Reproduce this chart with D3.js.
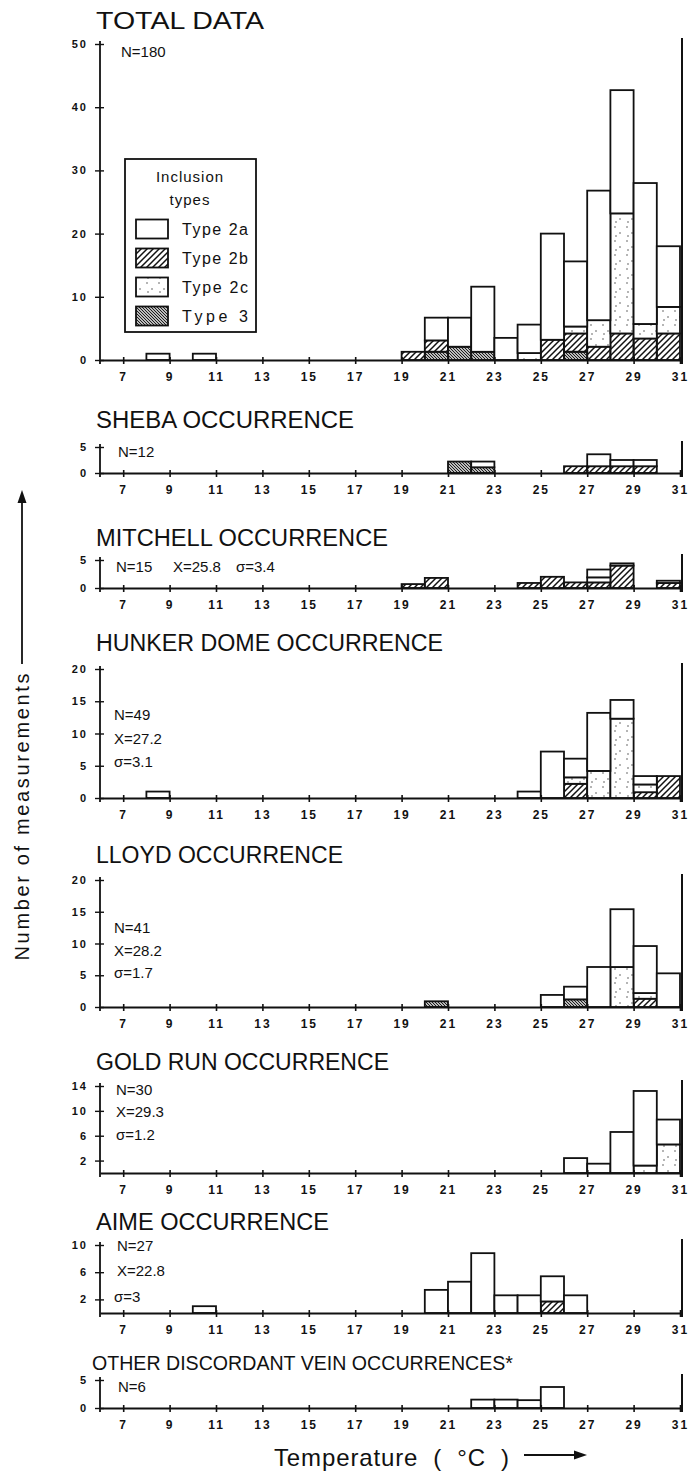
<!DOCTYPE html>
<html>
<head>
<meta charset="utf-8">
<script src="https://cdn.jsdelivr.net/npm/d3@7"></script>
<style>
  body { margin: 0; background: #fff; }
  text { font-family: "Liberation Sans", Arial, sans-serif; fill: #111; }
</style>
</head>
<body>
<div id="chart"></div>
<script>
// each row: bin start (deg C), type 3, type 2b, type 2c, type 2a  (bins are 1 deg wide)
var totalData = [
  [8, 0, 0, 0, 1], [10, 0, 0, 0, 1], [19, 0, 1.3, 0, 0],
  [20, 1.3, 1.8, 0, 3.6], [21, 2.1, 0, 0, 4.6], [22, 1.3, 0, 0, 10.3],
  [23, 0, 0, 0, 3.5], [24, 0, 0, 1.1, 4.5], [25, 0, 3.2, 0, 16.8],
  [26, 1.3, 2.9, 1.1, 10.3], [27, 0, 2.1, 4.2, 20.5], [28, 0, 4.2, 19, 19.5],
  [29, 0, 3.4, 2.3, 22.3], [30, 0, 4.2, 4.2, 9.6]
]
var shebaData = [
  [21, 2.2, 0, 0, 0], [22, 1.1, 0, 0, 1.1], [26, 0, 1.3, 0, 0],
  [27, 0, 1.3, 0, 2.3], [28, 0, 1.3, 0, 1.2], [29, 0, 1.3, 0, 1.2]
]
var mitchellData = [
  [19, 0, 0.7, 0, 0], [20, 0, 1.8, 0, 0], [24, 0, 0.9, 0, 0], [25, 0, 2, 0, 0],
  [26, 0, 1, 0, 0], [27, 0, 1, 0.9, 1.4], [28, 0, 4, 0, 0.4], [30, 0, 0.9, 0, 0.4]
]
var hunkerData = [
  [8, 0, 0, 0, 1], [24, 0, 0, 0, 1], [25, 0, 0, 0, 7.2], [26, 0, 2.2, 1, 2.9],
  [27, 0, 0, 4.2, 9], [28, 0, 0, 12.3, 2.9], [29, 0, 0.9, 1.2, 1.3], [30, 0, 3.4, 0, 0]
]
var lloydData = [
  [20, 0.9, 0, 0, 0], [25, 0, 0, 0, 1.9], [26, 1.2, 0, 0, 2], [27, 0, 0, 0, 6.3],
  [28, 0, 0, 6.3, 9.1], [29, 0, 1.3, 0.9, 7.4], [30, 0, 0, 0, 5.3]
]
var goldRunData = [
  [26, 0, 0, 0, 2.4], [27, 0, 0, 0, 1.5], [28, 0, 0, 0, 6.6],
  [29, 0, 0, 1.2, 12], [30, 0, 0, 4.6, 4]
]
var aimeData = [
  [10, 0, 0, 0, 1], [20, 0, 0, 0, 3.4], [21, 0, 0, 0, 4.6], [22, 0, 0, 0, 8.8],
  [23, 0, 0, 0, 2.6], [24, 0, 0, 0, 2.6], [25, 0, 1.7, 0, 3.7], [26, 0, 0, 0, 2.6]
]
var otherData = [
  [22, 0, 0, 0, 1.5], [23, 0, 0, 0, 1.5], [24, 0, 0, 0, 1.4], [25, 0, 0, 0, 3.75]
]

var xTicks = [7, 9, 11, 13, 15, 17, 19, 21, 23, 25, 27, 29, 31]
var legendLabels = ["Type 2a", "Type 2b", "Type 2c", "Type 3"]
var layerKeys = ["t3", "b", "c", "a"]   // bottom to top

var totalStats = ["N=180"]
var shebaStats = ["N=12"]
var mitchellStats = ["N=15", "X=25.8", "\u03c3=3.4"]
var hunkerStats = ["N=49", "X=27.2", "\u03c3=3.1"]
var lloydStats = ["N=41", "X=28.2", "\u03c3=1.7"]
var goldRunStats = ["N=30", "X=29.3", "\u03c3=1.2"]
var aimeStats = ["N=27", "X=22.8", "\u03c3=3"]
var otherStats = ["N=6"]

// layout of the panels (pixel positions on the page)
var panels = [
  {title: "TOTAL DATA", data: totalData, max: 50, ticks: [0, 10, 20, 30, 40, 50], titleY: 20, topY: 44, baseY: 360, tw: 168, fs: 24,
   stats: totalStats, sx: [121], sy: [52]},
  {title: "SHEBA OCCURRENCE", data: shebaData, max: 5, ticks: [0, 5], titleY: 420, topY: 447, baseY: 473, tw: 258,
   stats: shebaStats, sx: [118], sy: [452]},
  {title: "MITCHELL OCCURRENCE", data: mitchellData, max: 5, ticks: [0, 5], titleY: 538, topY: 560, baseY: 588, tw: 292,
   stats: mitchellStats, sx: [116, 173, 236], sy: [567, 567, 567]},
  {title: "HUNKER DOME OCCURRENCE", data: hunkerData, max: 20, ticks: [0, 5, 10, 15, 20], titleY: 643, topY: 669, baseY: 798, tw: 347,
   stats: hunkerStats, sx: [114, 114, 114], sy: [715, 739, 762]},
  {title: "LLOYD OCCURRENCE", data: lloydData, max: 20, ticks: [0, 5, 10, 15, 20], titleY: 855, topY: 880, baseY: 1007, tw: 247,
   stats: lloydStats, sx: [114, 114, 114], sy: [928, 951, 973]},
  {title: "GOLD RUN OCCURRENCE", data: goldRunData, max: 14, ticks: [2, 6, 10, 14], titleY: 1062, topY: 1086, baseY: 1173, tw: 293,
   stats: goldRunStats, sx: [116, 116, 116], sy: [1090, 1112, 1135]},
  {title: "AIME OCCURRENCE", data: aimeData, max: 10, ticks: [2, 6, 10], titleY: 1222, topY: 1245, baseY: 1313, tw: 233,
   stats: aimeStats, sx: [117, 117, 114], sy: [1246, 1271, 1297]},
  {title: "OTHER DISCORDANT VEIN OCCURRENCES*", data: otherData, max: 5, ticks: [0, 5], titleY: 1363, topY: 1380, baseY: 1408, tw: 421, fs: 20, tx: 92,
   stats: otherStats, sx: [118], sy: [1387]}
]

var W = 688, H = 1471
var svg = d3.select("#chart").append("svg")
  .attr("width", W).attr("height", H)
  .style("background", "#fff")

// fill patterns
var defs = svg.append("defs")
defs.append("pattern").attr("id", "p2b").attr("patternUnits", "userSpaceOnUse")
  .attr("width", 6).attr("height", 6)
  .append("path").attr("d", "M-1,1 l2,-2 M0,6 l6,-6 M5,7 l2,-2")
  .attr("stroke", "#111").attr("stroke-width", 1.5)
defs.append("pattern").attr("id", "p3").attr("patternUnits", "userSpaceOnUse")
  .attr("width", 3).attr("height", 3)
  .append("path").attr("d", "M-1,-1 l5,5 M-1,2 l2,2 M2,-1 l2,2")
  .attr("stroke", "#111").attr("stroke-width", 1.1)
var dots = defs.append("pattern").attr("id", "p2c").attr("patternUnits", "userSpaceOnUse")
  .attr("width", 12).attr("height", 14)
dots.append("rect").attr("width", 12).attr("height", 14).attr("fill", "#fff")
;[[3, 3], [8, 9], [4, 12]].forEach(function(p) {
  dots.append("circle").attr("cx", p[0]).attr("cy", p[1]).attr("r", 0.7).attr("fill", "#333")
})
var fills = {t3: "url(#p3)", b: "url(#p2b)", c: "url(#p2c)", a: "#fff"}

var x = d3.scaleLinear().domain([6, 31]).range([100, 680])
var stack = d3.stack().keys(layerKeys)

panels.forEach(function(p) {
  var y = d3.scaleLinear().domain([0, p.max]).range([p.baseY, p.topY])
  var g = svg.append("g")

  g.append("text")
    .attr("x", p.tx || 96).attr("y", p.titleY).attr("dy", "0.36em")
    .attr("font-size", p.fs || 23)
    .attr("textLength", p.tw).attr("lengthAdjust", "spacingAndGlyphs")
    .text(p.title)

  var rows = p.data.map(function(r) { return {t: r[0], t3: r[1], b: r[2], c: r[3], a: r[4]} })
  var series = stack(rows)
  series.forEach(function(s) {
    g.selectAll(null)
      .data(s.filter(function(d) { return d[1] - d[0] > 0 }))
      .enter().append("rect")
      .attr("x", function(d) { return x(d.data.t) })
      .attr("width", function(d) { return x(d.data.t + 1) - x(d.data.t) })
      .attr("y", function(d) { return y(d[1]) })
      .attr("height", function(d) { return y(d[0]) - y(d[1]) })
      .attr("fill", fills[s.key])
      .attr("stroke", "#111").attr("stroke-width", 1.8)
  })

  // x axis with crossing ticks
  var xa = g.append("g").attr("transform", "translate(0," + p.baseY + ")")
    .call(d3.axisBottom(x).tickValues(xTicks).tickSize(4).tickSizeOuter(0).tickPadding(8).tickFormat(d3.format("d")))
  xa.select(".domain").attr("stroke", "#111").attr("stroke-width", 2)
  xa.selectAll(".tick line").attr("y1", -3).attr("stroke", "#111").attr("stroke-width", 1.6)
  xa.selectAll(".tick text").attr("font-size", 12).attr("font-weight", "bold")
    .attr("font-family", "Liberation Sans, Arial, sans-serif").style("letter-spacing", "2px")

  // y axis with crossing ticks
  var ya = g.append("g").attr("transform", "translate(" + x(6) + ",0)")
    .call(d3.axisLeft(y).tickValues(p.ticks).tickSize(5).tickSizeOuter(0).tickPadding(7).tickFormat(d3.format("d")))
  ya.select(".domain").attr("stroke", "#111").attr("stroke-width", 1.8)
    .attr("d", "M0," + (p.baseY + 4) + "V" + (p.topY - 3))
  ya.selectAll(".tick line").attr("x1", 4).attr("x2", -5).attr("stroke", "#111").attr("stroke-width", 1.4)
  ya.selectAll(".tick text").attr("font-size", 11).attr("font-weight", "bold")
    .attr("font-family", "Liberation Sans, Arial, sans-serif").style("letter-spacing", "2px")

  // right-hand frame line at 31 deg
  g.append("line")
    .attr("x1", x(31) + 2).attr("x2", x(31) + 2)
    .attr("y1", p.baseY + 4).attr("y2", p.topY - 6)
    .attr("stroke", "#111").attr("stroke-width", 2)

  p.stats.forEach(function(s, i) {
    g.append("text").attr("x", p.sx[i]).attr("y", p.sy[i]).attr("dy", "0.36em")
      .attr("font-size", 15).text(s)
  })
})

// legend in the total panel
var lg = svg.append("g")
lg.append("rect").attr("x", 125).attr("y", 159).attr("width", 131).attr("height", 173)
  .attr("fill", "#fff").attr("stroke", "#111").attr("stroke-width", 1.8)
lg.append("text").attr("x", 190).attr("y", 177).attr("dy", "0.36em").attr("text-anchor", "middle")
  .attr("font-size", 15).style("letter-spacing", "1px").text("Inclusion")
lg.append("text").attr("x", 190).attr("y", 200).attr("dy", "0.36em").attr("text-anchor", "middle")
  .attr("font-size", 15).style("letter-spacing", "1px").text("types")
var legendFills = [fills.a, fills.b, fills.c, fills.t3]
var legendY = d3.scalePoint().domain(legendLabels).range([229, 316])
legendLabels.forEach(function(l, i) {
  lg.append("rect").attr("x", 136).attr("y", legendY(l) - 9.5).attr("width", 32).attr("height", 19)
    .attr("fill", legendFills[i]).attr("stroke", "#111").attr("stroke-width", 1.8)
  lg.append("text").attr("x", 182).attr("y", legendY(l)).attr("dy", "0.36em")
    .attr("font-size", 16).attr("textLength", 66).attr("lengthAdjust", "spacing").text(l)
})

// axis titles
svg.append("text").attr("transform", "translate(29,817) rotate(-90)")
  .attr("text-anchor", "middle").attr("font-size", 20)
  .attr("textLength", 287).attr("lengthAdjust", "spacing")
  .text("Number of measurements")
svg.append("line").attr("x1", 22).attr("x2", 22).attr("y1", 664).attr("y2", 500)
  .attr("stroke", "#111").attr("stroke-width", 1.8)
svg.append("path").attr("d", "M22,490 L17.5,503 L26.5,503 Z").attr("fill", "#111")

svg.append("text").attr("x", 274).attr("y", 1457).attr("dy", "0.36em")
  .attr("font-size", 24).style("white-space", "pre")
  .attr("textLength", 235).attr("lengthAdjust", "spacing")
  .text("Temperature  (  \u00b0C  )")
svg.append("line").attr("x1", 524).attr("x2", 576).attr("y1", 1455).attr("y2", 1455)
  .attr("stroke", "#111").attr("stroke-width", 1.8)
svg.append("path").attr("d", "M587,1455 L574,1450.5 L574,1459.5 Z").attr("fill", "#111")
</script>
</body>
</html>
